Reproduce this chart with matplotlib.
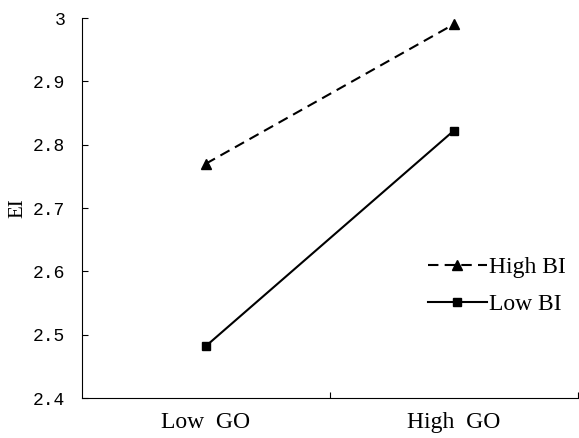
import matplotlib
matplotlib.use('Agg')
import matplotlib.pyplot as plt

# data
categories = ['Low  GO', 'High  GO']
high_bi = [2.77, 2.99]
low_bi = [2.482, 2.822]
yticks = [2.4, 2.5, 2.6, 2.7, 2.8, 2.9, 3.0]
ytick_labels = ['2.4', '2.5', '2.6', '2.7', '2.8', '2.9', '3']

plt.rcParams['font.family'] = 'Liberation Serif'

fig = plt.figure(figsize=(5.79, 4.38), dpi=100)
ax = fig.add_axes([0.1416, 0.0913, 0.856, 0.8676])

x = [0.5, 1.5]
ax.plot(x, high_bi, color='black', linestyle=(0, (5, 3)), linewidth=1.5,
        marker='^', markersize=7.5, label='High BI')
ax.plot(x, low_bi, color='black', linestyle='-', linewidth=1.5,
        marker='s', markersize=6, label='Low BI')

ax.set_xlim(0, 2)
ax.set_ylim(2.4, 3.0)

ax.set_yticks(yticks)
ax.set_yticklabels(ytick_labels, family='Liberation Mono', fontsize=13)
ax.set_xticks([1, 2])
ax.set_xticklabels([])
ax.set_xticks(x, minor=True)
ax.set_xticklabels(categories, minor=True, fontsize=17)
ax.tick_params(axis='x', which='minor', length=0, pad=10)
ax.tick_params(axis='x', which='major', direction='in', length=4)
ax.tick_params(axis='y', direction='in', length=4, pad=12)

ax.spines['top'].set_visible(False)
ax.spines['right'].set_visible(False)

ax.set_ylabel('EI', fontsize=15, labelpad=4)

ax.legend(loc='center left', bbox_to_anchor=(0.655, 0.295), frameon=False,
          fontsize=17, handlelength=2.5, handletextpad=0.1, labelspacing=0.65)

plt.savefig('out.png', dpi=100)
